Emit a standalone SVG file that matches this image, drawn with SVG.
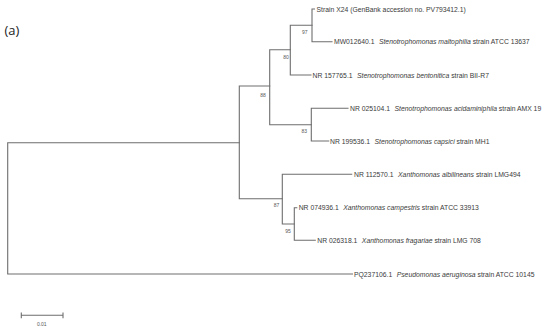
<svg xmlns="http://www.w3.org/2000/svg" width="550" height="333" viewBox="0 0 550 333">
<style>
.br{fill:none;stroke:#6e6e6e;stroke-width:1.1;stroke-linecap:square}
.lb{font-family:"Liberation Sans",Arial,sans-serif;font-size:6.8px;fill:#3a3a3a}
.sp{font-style:italic}
.bs{font-family:"Liberation Sans",Arial,sans-serif;font-size:5px;fill:#555;text-anchor:end}
.ttl{font-family:"Open Sans","Liberation Sans",sans-serif;font-size:13px;fill:#222}
</style>
<rect width="550" height="333" fill="#fff"/>
<text class="ttl" x="4.5" y="35">(a)</text>
<g id="connectors">
<path class="br" d="M7.7,142.7 V274 M7.7,142.7 H239.3 M7.7,274 H352.5"/>
<path class="br" d="M239.3,86 V198.8 M239.3,86 H269.7 M239.3,198.8 H282.3"/>
<path class="br" d="M269.7,49.7 V124.7 M269.7,49.7 H290.3 M269.7,124.7 H311.3"/>
<path class="br" d="M290.3,25.3 V75 M290.3,25.3 H312 M290.3,75 H311"/>
<path class="br" d="M312,9 V41.7 M312,9 H314.5 M312,41.7 H332"/>
<path class="br" d="M311.3,108.3 V141 M311.3,108.3 H348 M311.3,141 H328.7"/>
<path class="br" d="M282.3,174.3 V224 M282.3,174.3 H351.7 M282.3,224 H294.3"/>
<path class="br" d="M294.3,207.7 V240.3 M294.3,207.7 H296.8 M294.3,240.3 H315.3"/>
</g>
<g id="bootstrap">
<text class="bs" x="307.5" y="33.5">97</text>
<text class="bs" x="288.8" y="58.8">80</text>
<text class="bs" x="265.8" y="96.8">88</text>
<text class="bs" x="307" y="132.8">83</text>
<text class="bs" x="279.2" y="206.5">87</text>
<text class="bs" x="290.8" y="232.5">95</text>
</g>
<g id="strainX24"><text class="lb" x="316.5" y="11.5">Strain X24 (GenBank accession no. PV793412.1)</text></g>
<g id="MW012640"><text class="lb" x="334" y="44.2">MW012640.1<tspan class="sp" dx="4.5">Stenotrophomonas maltophilia</tspan> strain ATCC 13637</text></g>
<g id="NR157765"><text class="lb" x="312.5" y="77.5">NR 157765.1<tspan class="sp" dx="4.5">Stenotrophomonas bentonitica</tspan> strain BII-R7</text></g>
<g id="NR025104"><text class="lb" x="350" y="110.8">NR 025104.1<tspan class="sp" dx="4.5">Stenotrophomonas acidaminiphila</tspan> strain AMX 19</text></g>
<g id="NR199536"><text class="lb" x="330" y="143.5">NR 199536.1<tspan class="sp" dx="4.5">Stenotrophomonas capsici</tspan> strain MH1</text></g>
<g id="NR112570"><text class="lb" x="354" y="176.8">NR 112570.1<tspan class="sp" dx="4.5">Xanthomonas albilineans</tspan> strain LMG494</text></g>
<g id="NR074936"><text class="lb" x="298.7" y="210.2">NR 074936.1<tspan class="sp" dx="4.5">Xanthomonas campestris</tspan> strain ATCC 33913</text></g>
<g id="NR026318"><text class="lb" x="317.3" y="242.8">NR 026318.1<tspan class="sp" dx="4.5">Xanthomonas fragariae</tspan> strain LMG 708</text></g>
<g id="PQ237106"><text class="lb" x="354" y="276.5">PQ237106.1<tspan class="sp" dx="4.5">Pseudomonas aeruginosa</tspan> strain ATCC 10145</text></g>
<g id="scalebar">
<path class="br" d="M21.3,315.3 H63 M21.3,313 V317.8 M63,313 V317.8"/>
<text class="bs" style="text-anchor:middle" x="41.8" y="325.5">0.01</text>
</g>
</svg>
